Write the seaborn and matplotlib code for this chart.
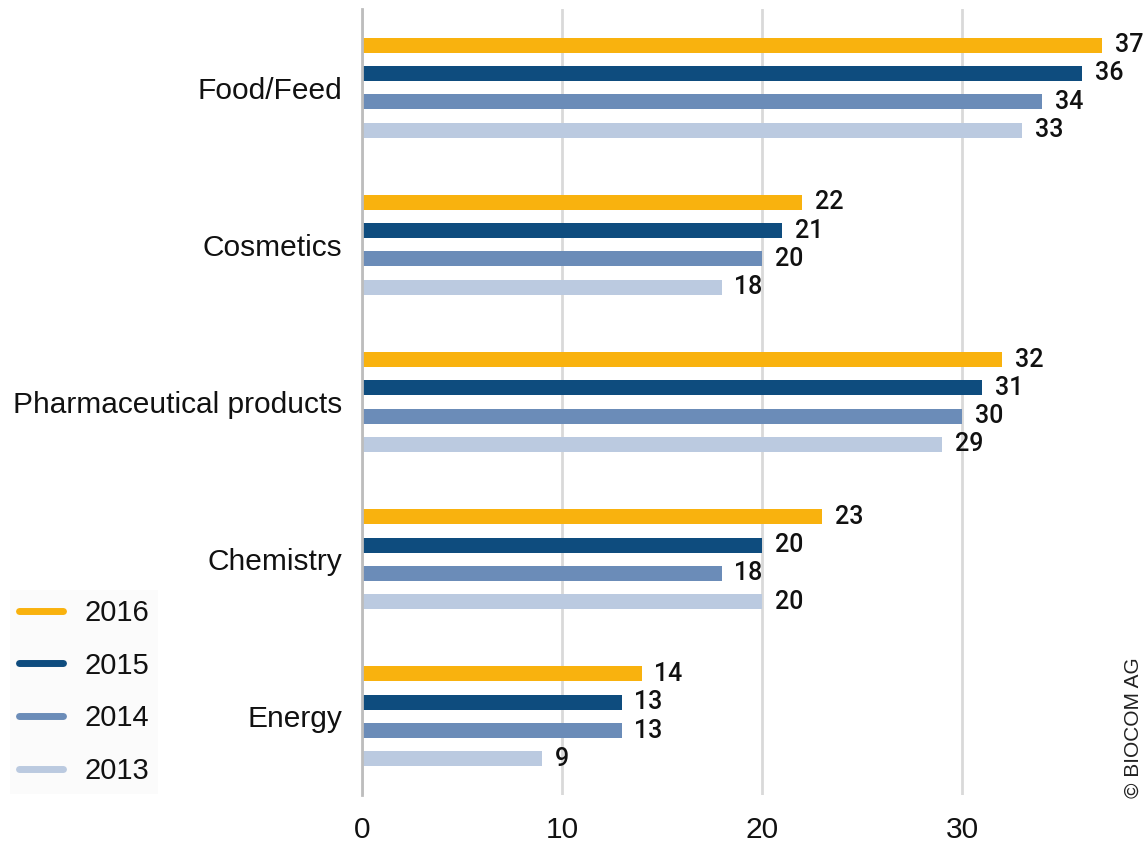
import matplotlib
matplotlib.use("Agg")
import matplotlib.pyplot as plt
import seaborn as sns
import pandas as pd
from matplotlib.lines import Line2D

categories = ["Food/Feed", "Cosmetics", "Pharmaceutical products", "Chemistry", "Energy"]
years = ["2016", "2015", "2014", "2013"]
v2016 = [37, 22, 32, 23, 14]
v2015 = [36, 21, 31, 20, 13]
v2014 = [34, 20, 30, 18, 13]
v2013 = [33, 18, 29, 20, 9]
colors = ["#F9B20E", "#0E4C7E", "#6B8CB8", "#BBCAE0"]

rows = []
for y, vals in zip(years, [v2016, v2015, v2014, v2013]):
    for c, v in zip(categories, vals):
        rows.append({"category": c, "year": y, "value": v})
df = pd.DataFrame(rows)

sns.set_theme(style="white")
plt.rcParams["font.family"] = ["Liberation Sans", "DejaVu Sans"]

fig = plt.figure(figsize=(11.44, 8.43), dpi=100)
ax = fig.add_axes([362/1144, 1 - 795/843, 1 - 362/1144, (795 - 9)/843])

sns.barplot(data=df, y="category", x="value", hue="year", order=categories,
            hue_order=years, palette=colors, orient="h", width=0.72,
            legend=False, ax=ax, saturation=1)

bar_h = 0.095
for p in ax.patches:
    cy = p.get_y() + p.get_height() / 2
    p.set_height(bar_h)
    p.set_y(cy - bar_h / 2)
    p.set_edgecolor("none")

for cont in ax.containers:
    labs = ax.bar_label(cont, labels=[f"{int(v)}" for v in cont.datavalues], padding=9,
                        fontsize=18, color="#111111")
    for t in labs:
        t.set_family(["Roboto", "Liberation Sans", "DejaVu Sans"])
        t.set_fontweight("medium")

ax.set_xlim(0, 39.1)
ax.set_ylim(4.5, -0.5)
ax.set_xticks([0, 10, 20, 30])
ax.xaxis.grid(True, color="#d9d9d9", linewidth=2)
ax.set_axisbelow(True)
for s in ["top", "right", "bottom"]:
    ax.spines[s].set_visible(False)
ax.spines["left"].set_color("#bdbdbd")
ax.spines["left"].set_linewidth(2)
ax.tick_params(axis="both", length=0, labelsize=21.5, colors="#111111")
ax.tick_params(axis="x", pad=15)
ax.tick_params(axis="y", pad=14)
ax.set_xlabel("")
ax.set_ylabel("")

handles = [Line2D([0], [0], color=c, lw=5, solid_capstyle="round") for c in colors]
leg = fig.legend(handles, years, loc="lower left", bbox_to_anchor=(10/1144, 1 - 794/843),
                 frameon=True, fontsize=21, handlelength=1.5, handletextpad=0.75,
                 labelspacing=0.85, borderpad=0.3, borderaxespad=0, fancybox=False)
leg.get_frame().set_facecolor("#fbfbfb")
leg.get_frame().set_edgecolor("none")
for t in leg.get_texts():
    t.set_color("#111111")

fig.text(1133/1144, 1 - 728/843, "© BIOCOM AG", rotation=90, ha="center", va="center",
         fontsize=15, color="#222222")

fig.savefig("out.png", dpi=100)
